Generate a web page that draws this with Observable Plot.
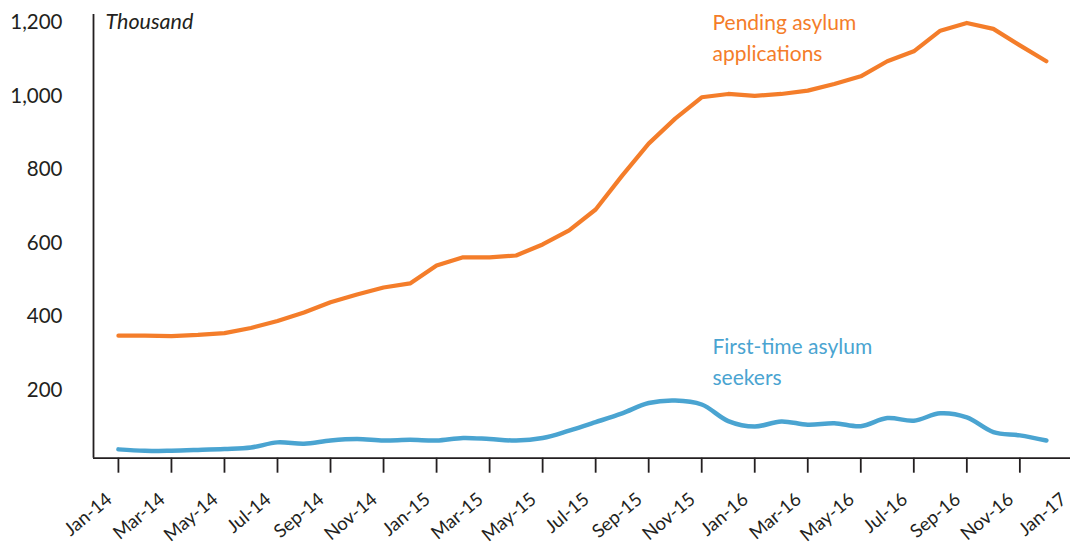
<!DOCTYPE html>
<html>
<head>
<meta charset="utf-8">
<script src="https://cdn.jsdelivr.net/npm/d3@7"></script>
<script src="https://cdn.jsdelivr.net/npm/@observablehq/plot@0.6"></script>
<style>
  html, body { margin: 0; padding: 0; background: #fff; }
  #chart svg { display: block; }
</style>
</head>
<body>
<div id="chart"></div>
<script>
// Month labels every two months (Jan-14 ... Jan-17)
const tickLabels = ["Jan-14","Mar-14","May-14","Jul-14","Sep-14","Nov-14",
  "Jan-15","Mar-15","May-15","Jul-15","Sep-15","Nov-15",
  "Jan-16","Mar-16","May-16","Jul-16","Sep-16","Nov-16","Jan-17"];

// Monthly values, Jan 2014 - Dec 2016 (thousand)
const pending = [349, 349, 348, 351, 356, 370, 389, 412, 440, 461, 480, 491,
  540, 562, 562, 567, 597, 635, 692, 784, 871, 939, 997, 1006,
  1001, 1006, 1015, 1033, 1054, 1095, 1122, 1178, 1199, 1183, 1138, 1095];

const firstTime = [40, 36, 36.5, 38.5, 41, 45, 59, 55, 64, 68, 64, 66,
  64, 71, 68, 64, 71, 91, 114, 138, 166, 173, 162, 117,
  102, 116, 107, 111, 103, 125, 118, 138, 127, 87, 78, 64];

const yTicks = [200, 400, 600, 800, 1000, 1200];
const yUnit = "Thousand";
const seriesLabels = ["Pending asylum\napplications", "First-time asylum\nseekers"];

const orange = "#F47D2A";
const blue = "#4AA4D1";
const ink = "#231F20";

const xDomain = [-0.94, 35.91];
const yDomain = [16, 1222];

const pendingData = pending.map((v, i) => ({i, v}));
const firstData = firstTime.map((v, i) => ({i, v}));
const labelData = tickLabels.map((t, k) => ({i: k * 2, t}));

const chart = Plot.plot({
  width: 1070,
  height: 544,
  marginLeft: 93,
  marginRight: 0,
  marginTop: 14,
  marginBottom: 86.3,
  style: {fontFamily: "Lato, 'Open Sans', sans-serif", color: ink, background: "#fff", overflow: "visible"},
  x: {domain: xDomain, axis: null},
  y: {domain: yDomain, axis: null},
  marks: [
    Plot.axisY({ticks: yTicks, tickSize: 0, tickPadding: 31, tickFormat: d3.format(","),
      fontSize: 20.5, label: null, fill: ink}),
    Plot.axisX({ticks: labelData.map(d => d.i), tickSize: 15, tickFormat: () => "",
      stroke: ink, strokeWidth: 1.8, label: null}),
    Plot.text(labelData, {x: "i", text: "t", frameAnchor: "bottom", dy: 38.5, dx: -9,
      rotate: -40, textAnchor: "end", lineAnchor: "middle", fontSize: 18.5, fill: ink}),
    Plot.ruleY([yDomain[0]], {stroke: ink, strokeWidth: 1.8}),
    Plot.ruleX([xDomain[0]], {stroke: ink, strokeWidth: 1.8}),
    Plot.text([yUnit], {frameAnchor: "top-left", dx: 12, dy: 8, textAnchor: "start",
      lineAnchor: "middle", fontSize: 21.5, fontStyle: "italic", fill: ink}),
    Plot.line(pendingData, {x: "i", y: "v", stroke: orange, strokeWidth: 4.2,
      strokeLinejoin: "round", strokeLinecap: "round"}),
    Plot.line(firstData, {x: "i", y: "v", stroke: blue, strokeWidth: 4.5, curve: "catmull-rom",
      strokeLinejoin: "round", strokeLinecap: "round"}),
    Plot.text([seriesLabels[0]], {frameAnchor: "top-left", dx: 619, dy: -6, textAnchor: "start",
      lineAnchor: "top", lineHeight: 1.45, fontSize: 21, fill: orange}),
    Plot.text([seriesLabels[1]], {frameAnchor: "top-left", dx: 619, dy: 317, textAnchor: "start",
      lineAnchor: "top", lineHeight: 1.5, fontSize: 21, fill: blue})
  ]
});
document.getElementById("chart").appendChild(chart);
</script>
</body>
</html>
